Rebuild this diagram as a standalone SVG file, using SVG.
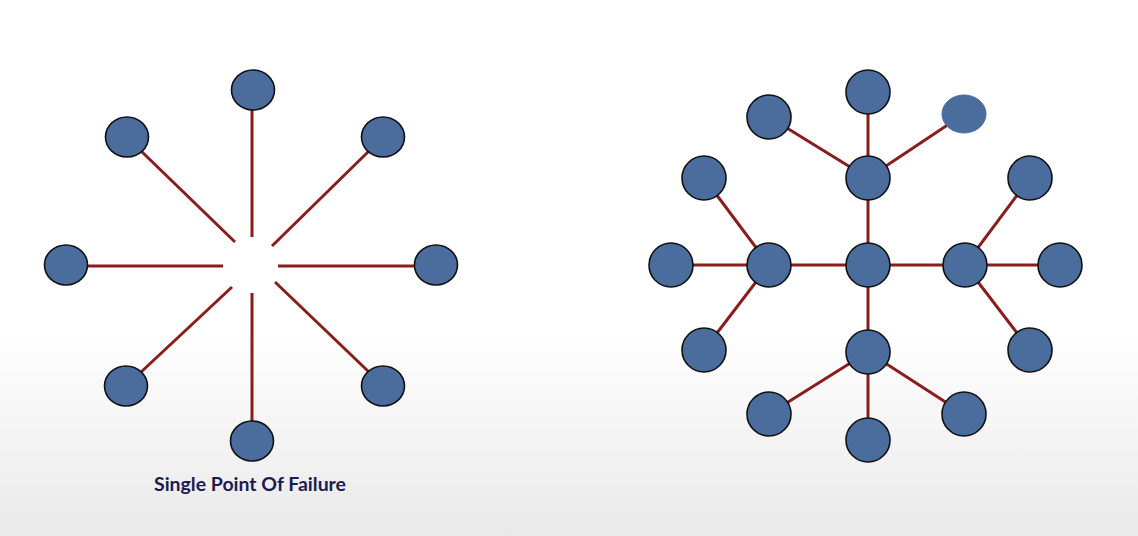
<svg xmlns="http://www.w3.org/2000/svg" width="1138" height="536" viewBox="0 0 1138 536">
<defs>
<linearGradient id="bg" x1="0" y1="0" x2="0" y2="1">
<stop offset="0" stop-color="#ffffff"/>
<stop offset="0.62" stop-color="#ffffff"/>
<stop offset="1" stop-color="#e9e9e9"/>
</linearGradient>
<style>
.edge{stroke:#8b1c1c;stroke-width:3;fill:none}
.node{fill:#4a6d9e;stroke:#111;stroke-width:1.6}
.soft{fill:#4a6d9e;stroke:#4a6d9e;stroke-width:1}
.label{font-family:Lato,"Open Sans","Liberation Sans",sans-serif;font-weight:bold;font-size:19px;fill:#1b1b52}
</style>
</defs>
<rect width="1138" height="536" fill="url(#bg)"/>
<g id="connectors">
<line class="edge" x1="252" y1="108" x2="252" y2="237"/>
<line class="edge" x1="252" y1="293" x2="252" y2="422"/>
<line class="edge" x1="87" y1="266" x2="223" y2="266"/>
<line class="edge" x1="278" y1="266" x2="415" y2="266"/>
<line class="edge" x1="140" y1="150" x2="235" y2="242"/>
<line class="edge" x1="370" y1="150" x2="272" y2="246"/>
<line class="edge" x1="140" y1="373" x2="232" y2="287"/>
<line class="edge" x1="275" y1="282" x2="370" y2="373"/>
<line class="edge" x1="769" y1="265" x2="965" y2="265"/>
<line class="edge" x1="868" y1="92" x2="868" y2="440"/>
<line class="edge" x1="868" y1="178" x2="769" y2="117"/>
<line class="edge" x1="868" y1="178" x2="964" y2="114"/>
<line class="edge" x1="769" y1="265" x2="671" y2="265"/>
<line class="edge" x1="769" y1="265" x2="704" y2="178"/>
<line class="edge" x1="769" y1="265" x2="704" y2="350"/>
<line class="edge" x1="965" y1="265" x2="1060" y2="265"/>
<line class="edge" x1="965" y1="265" x2="1030" y2="178"/>
<line class="edge" x1="965" y1="265" x2="1030" y2="350"/>
<line class="edge" x1="868" y1="352" x2="769" y2="414"/>
<line class="edge" x1="868" y1="352" x2="964" y2="414"/>
</g>
<g id="n-top"><ellipse class="node" cx="253" cy="90" rx="21.5" ry="20"/></g>
<g id="n-tl"><ellipse class="node" cx="127" cy="137" rx="21.5" ry="20"/></g>
<g id="n-tr"><ellipse class="node" cx="383" cy="137" rx="21.5" ry="20"/></g>
<g id="n-l"><ellipse class="node" cx="66" cy="265" rx="21.5" ry="20"/></g>
<g id="n-r"><ellipse class="node" cx="436" cy="265" rx="21.5" ry="20"/></g>
<g id="n-bl"><ellipse class="node" cx="126" cy="386" rx="21.5" ry="20"/></g>
<g id="n-br"><ellipse class="node" cx="383" cy="386" rx="21.5" ry="20"/></g>
<g id="n-b"><ellipse class="node" cx="252" cy="441" rx="21.5" ry="20"/></g>
<g id="t-center"><circle class="node" cx="868" cy="265" r="22"/></g>
<g id="t-lhub"><circle class="node" cx="769" cy="265" r="22"/></g>
<g id="t-rhub"><circle class="node" cx="965" cy="265" r="22"/></g>
<g id="t-thub"><circle class="node" cx="868" cy="178" r="22"/></g>
<g id="t-bhub"><circle class="node" cx="868" cy="352" r="22"/></g>
<g id="t-t1"><circle class="node" cx="868" cy="92" r="22"/></g>
<g id="t-t2"><circle class="node" cx="769" cy="117" r="22"/></g>
<g id="t-t3"><ellipse class="soft" cx="964" cy="114" rx="22" ry="19"/></g>
<g id="t-l1"><circle class="node" cx="704" cy="178" r="22"/></g>
<g id="t-l2"><circle class="node" cx="671" cy="265" r="22"/></g>
<g id="t-l3"><circle class="node" cx="704" cy="350" r="22"/></g>
<g id="t-r1"><circle class="node" cx="1030" cy="178" r="22"/></g>
<g id="t-r2"><circle class="node" cx="1060" cy="265" r="22"/></g>
<g id="t-r3"><circle class="node" cx="1030" cy="350" r="22"/></g>
<g id="t-b1"><circle class="node" cx="769" cy="414" r="22"/></g>
<g id="t-b2"><circle class="node" cx="868" cy="440" r="22"/></g>
<g id="t-b3"><circle class="node" cx="964" cy="414" r="22"/></g>
<text class="label" x="250" y="491" text-anchor="middle" textLength="192" lengthAdjust="spacingAndGlyphs">Single Point Of Failure</text>
</svg>
